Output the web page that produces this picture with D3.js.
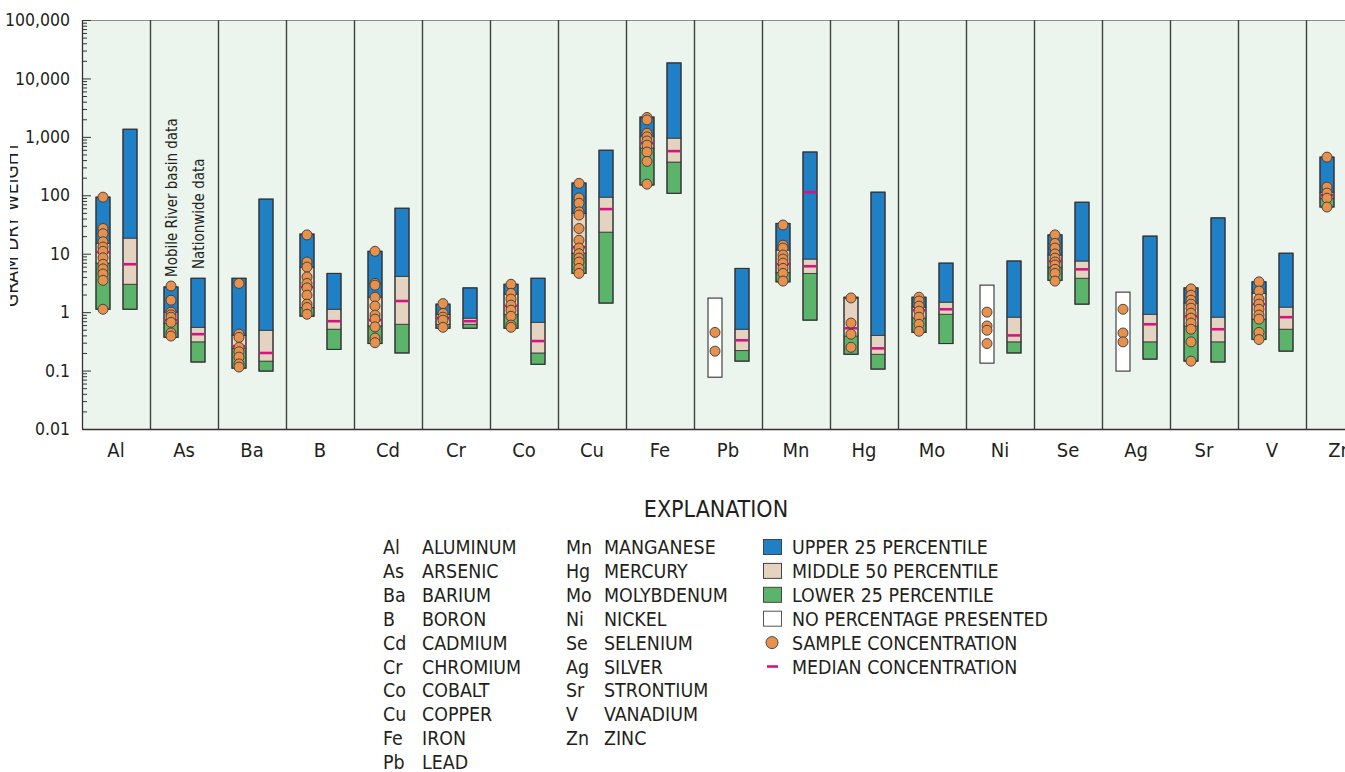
<!DOCTYPE html>
<html>
<head>
<meta charset="utf-8">
<script src="https://cdn.jsdelivr.net/npm/d3@7"></script>
<style>
  html, body { margin: 0; padding: 0; background: #ffffff; }
  svg { display: block; }
  text { font-family: 'Liberation Sans Narrow', 'DejaVu Sans Condensed', 'Arial Narrow', sans-serif; fill: #231f20; }
</style>
</head>
<body>
<svg id="chart" width="1345" height="772"></svg>
<script>
// ---------- DATA ----------
const elements = ["Al","As","Ba","B","Cd","Cr","Co","Cu","Fe","Pb","Mn","Hg","Mo","Ni","Se","Ag","Sr","V","Zn"];
const elementNames = ["ALUMINUM","ARSENIC","BARIUM","BORON","CADMIUM","CHROMIUM","COBALT","COPPER","IRON","LEAD",
                      "MANGANESE","MERCURY","MOLYBDENUM","NICKEL","SELENIUM","SILVER","STRONTIUM","VANADIUM","ZINC"];

// Mobile River basin data (null quartiles = no percentage presented)
const mrMin    = [1.12, 0.37, 0.11, 0.85, 0.29, 0.53, 0.53, 4.6, 150, 0.077, 3.3, 0.19, 0.45, 0.134, 3.5, 0.098, 0.145, 0.34, 63];
const mrQ1     = [6.9, 0.65, 0.24, 1.2, 0.58, 0.62, 0.92, 10.2, 645, null, 4.8, 0.39, 0.79, null, 5.9, null, 0.58, 0.76, 89];
const mrQ3     = [15, 1.0, 0.40, 5.9, 1.8, 0.92, 2.03, 49, 1030, null, 11.5, 1.74, 1.22, null, 9.5, null, 1.43, 2.1, 113];
const mrMax    = [93, 2.7, 3.8, 21.7, 11, 1.37, 3.0, 162, 2180, 1.74, 33, 1.8, 1.8, 2.9, 21, 2.2, 2.6, 3.3, 450];
const mrMedian = [10.6, 0.73, 0.26, 2.7, 0.73, 0.79, 1.27, 13, 780, null, 6.6, 0.53, 1.08, null, 7.5, null, 0.85, 1.37, 100];

// Nationwide data
const nwMin    = [1.12, 0.14, 0.098, 0.23, 0.2, 0.53, 0.128, 1.43, 108, 0.145, 0.73, 0.106, 0.29, 0.2, 1.37, 0.157, 0.14, 0.215, null];
const nwQ1     = [3.0, 0.31, 0.145, 0.51, 0.62, 0.62, 0.2, 23.4, 370, 0.22, 4.6, 0.19, 0.92, 0.31, 3.8, 0.31, 0.31, 0.51, null];
const nwQ3     = [18.5, 0.55, 0.49, 1.12, 4.1, 0.79, 0.67, 93, 950, 0.51, 8.1, 0.40, 1.48, 0.82, 7.5, 0.92, 0.82, 1.22, null];
const nwMax    = [1350, 3.8, 86, 4.6, 60, 2.6, 3.8, 590, 18400, 5.6, 550, 113, 6.9, 7.5, 76, 20, 41, 10.2, null];
const nwMedian = [6.6, 0.42, 0.2, 0.70, 1.55, 0.7, 0.32, 58, 570, 0.33, 6.1, 0.24, 1.12, 0.40, 5.4, 0.62, 0.51, 0.82, null];
const nwExtraMark = [null, null, null, null, null, null, null, null, null, null, 113, null, null, null, null, null, null, null, null];

// Sample concentrations, Mobile River basin
const samples = [
  [93, 27, 22, 16, 13, 11, 8.5, 6.6, 5.5, 4.5, 3.5, 1.12],
  [2.8, 1.6, 1.0, 0.9, 0.82, 0.67, 0.44, 0.39],
  [3.1, 0.42, 0.37, 0.25, 0.21, 0.17, 0.13, 0.115],
  [21, 7.2, 5.9, 4.0, 3.1, 2.6, 1.95, 1.37, 1.2, 0.92],
  [11, 3.1, 2.9, 1.8, 1.27, 0.89, 0.76, 0.56, 0.36, 0.3],
  [1.4, 0.95, 0.82, 0.73, 0.55],
  [3.0, 2.1, 1.67, 1.32, 1.08, 0.85, 0.6, 0.55],
  [160, 90, 73, 52, 46, 27, 17, 12.5, 10, 8.4, 7.2, 5.6, 4.6],
  [2150, 1950, 1150, 1000, 850, 720, 550, 380, 155],
  [0.45, 0.215],
  [31, 14, 12.5, 9.5, 8.1, 6.9, 5.6, 4.6, 3.4],
  [1.75, 0.65, 0.42, 0.25],
  [1.8, 1.55, 1.27, 1.04, 0.82, 0.62, 0.47],
  [1.0, 0.58, 0.49, 0.29],
  [21, 15, 12.5, 9.9, 8.4, 7.2, 6.4, 5.4, 4.6, 3.4],
  [1.12, 0.44, 0.31],
  [2.5, 1.95, 1.6, 1.37, 1.17, 0.96, 0.79, 0.65, 0.51, 0.31, 0.145],
  [3.3, 2.3, 1.67, 1.37, 1.12, 0.89, 0.76, 0.45, 0.34],
  [450, 138, 109, 89, 63]
];

const yTickValues = [0.01, 0.1, 1, 10, 100, 1000, 10000, 100000];
const yTickLabels = ["0.01", "0.1", "1", "10", "100", "1,000", "10,000", "100,000"];

const legendItems = ["UPPER 25 PERCENTILE", "MIDDLE 50 PERCENTILE", "LOWER 25 PERCENTILE",
                     "NO PERCENTAGE PRESENTED", "SAMPLE CONCENTRATION", "MEDIAN CONCENTRATION"];

// ---------- STYLE ----------
const C = {
  bg: "#ebf5ee", upper: "#1f80c6", middle: "#e3d3c0", lower: "#5cb46b",
  none: "#ffffff", dot: "#e8914c", median: "#d2167f", stroke: "#333333", sep: "#404040"
};

const svg = d3.select("#chart");
const plot = { left: 82, top: 20, bottom: 429, panel: 68 };

const x = d3.scaleBand().domain(elements)
  .range([plot.left, plot.left + plot.panel * elements.length]).padding(0);
const y = d3.scaleLog().domain([0.01, 100000]).range([plot.bottom, plot.top]);

const barW = 14, mrOff = 14, nwOff = 41;

// background
svg.append("rect").attr("x", plot.left).attr("y", plot.top)
  .attr("width", 1345 - plot.left).attr("height", plot.bottom - plot.top)
  .attr("fill", C.bg);

// top border
svg.append("line").attr("x1", plot.left).attr("x2", 1345)
  .attr("y1", plot.top + 0.5).attr("y2", plot.top + 0.5)
  .attr("stroke", "#8c8c8c").attr("stroke-width", 1);

// panel separators
svg.append("g").selectAll("line").data(elements.slice(1)).join("line")
  .attr("x1", d => x(d) + 0.5).attr("x2", d => x(d) + 0.5)
  .attr("y1", plot.top).attr("y2", plot.bottom)
  .attr("stroke", C.sep).attr("stroke-width", 1.4);

// build bar records
function makeBars(mins, q1s, q3s, maxs, meds, off) {
  return elements.map((e, i) => ({
    e, i, x: x(e) + off, min: mins[i], q1: q1s[i], q3: q3s[i], max: maxs[i], med: meds[i]
  })).filter(d => d.min != null && d.max != null);
}
const bars = makeBars(mrMin, mrQ1, mrQ3, mrMax, mrMedian, mrOff)
  .concat(makeBars(nwMin, nwQ1, nwQ3, nwMax, nwMedian, nwOff));

const gBars = svg.append("g");
bars.forEach(d => {
  const g = gBars.append("g");
  if (d.q1 == null) {
    g.append("rect").attr("x", d.x).attr("width", barW)
      .attr("y", y(d.max)).attr("height", y(d.min) - y(d.max))
      .attr("fill", C.none).attr("stroke", C.stroke).attr("stroke-width", 1.1);
    return;
  }
  const segs = [
    { lo: d.min, hi: d.q1, fill: C.lower },
    { lo: d.q1, hi: d.q3, fill: C.middle },
    { lo: d.q3, hi: d.max, fill: C.upper }
  ];
  segs.forEach(s => {
    g.append("rect").attr("x", d.x).attr("width", barW)
      .attr("y", y(s.hi)).attr("height", Math.max(0.5, y(s.lo) - y(s.hi)))
      .attr("fill", s.fill).attr("stroke", "#3d3d3d").attr("stroke-width", 0.9);
  });
  g.append("rect").attr("x", d.x).attr("width", barW)
    .attr("y", y(d.max)).attr("height", y(d.min) - y(d.max))
    .attr("fill", "none").attr("stroke", C.stroke).attr("stroke-width", 1.1);
  if (d.med != null) {
    g.append("line").attr("x1", d.x + 0.5).attr("x2", d.x + barW - 0.5)
      .attr("y1", y(d.med)).attr("y2", y(d.med))
      .attr("stroke", C.median).attr("stroke-width", 2.6);
  }
});

// extra magenta mark
svg.append("g").selectAll("line")
  .data(elements.map((e, i) => ({ e, v: nwExtraMark[i] })).filter(d => d.v != null))
  .join("line")
  .attr("x1", d => x(d.e) + nwOff + 0.5).attr("x2", d => x(d.e) + nwOff + barW - 0.5)
  .attr("y1", d => y(d.v)).attr("y2", d => y(d.v))
  .attr("stroke", C.median).attr("stroke-width", 2.6);

// sample dots
const dotData = [];
elements.forEach((e, i) => samples[i].forEach(v => dotData.push({ e, v })));
svg.append("g").selectAll("circle").data(dotData).join("circle")
  .attr("cx", d => x(d.e) + mrOff + barW / 2)
  .attr("cy", d => y(d.v))
  .attr("r", 5)
  .attr("fill", C.dot).attr("stroke", "#3a3a3a").attr("stroke-width", 0.9);

// y axis: ticks inside plot
const minorTicks = y.ticks().filter(t => !yTickValues.some(m => Math.abs(Math.log10(t) - Math.log10(m)) < 1e-6));
const gMinor = svg.append("g").attr("transform", `translate(${plot.left},0)`)
  .call(d3.axisRight(y).tickValues(minorTicks).tickSize(5).tickFormat(""));
gMinor.select(".domain").remove();
const gMajor = svg.append("g").attr("transform", `translate(${plot.left},0)`)
  .call(d3.axisRight(y).tickValues(yTickValues).tickSize(9).tickFormat(""));
gMajor.select(".domain").remove();
svg.selectAll(".tick line").attr("stroke", "#333").attr("stroke-width", 1);

const gLabels = svg.append("g").attr("transform", `translate(${plot.left - 9},0)`)
  .call(d3.axisLeft(y).tickValues(yTickValues).tickSize(0)
    .tickFormat((d, i) => yTickLabels[i]));
gLabels.select(".domain").remove();
gLabels.selectAll("text").attr("font-size", 17.5).attr("fill", "#231f20")
  .style("font-family", "'Liberation Sans Narrow', 'DejaVu Sans Condensed', sans-serif");

// left axis line and bottom axis
svg.append("line").attr("x1", plot.left + 0.5).attr("x2", plot.left + 0.5)
  .attr("y1", plot.top).attr("y2", plot.bottom).attr("stroke", "#333").attr("stroke-width", 1.3);
const gx = svg.append("g").attr("transform", `translate(0,${plot.bottom})`)
  .call(d3.axisBottom(x).tickSize(0).tickPadding(14));
gx.select(".domain").attr("stroke", "#333").attr("stroke-width", 1.3);
gx.selectAll("text").attr("font-size", 20).attr("fill", "#231f20")
  .style("font-family", "'Liberation Sans Narrow', 'DejaVu Sans Condensed', sans-serif");

// y axis title (cropped at the left edge in the reference)
svg.append("defs").append("clipPath").attr("id", "ytclip")
  .append("rect").attr("x", 10).attr("y", 0).attr("width", 40).attr("height", 772);
const ymid = (plot.top + plot.bottom) / 2;
svg.append("g").attr("clip-path", "url(#ytclip)")
  .append("text").attr("transform", `translate(18,${ymid}) rotate(-90)`)
  .attr("text-anchor", "middle").attr("font-size", 19)
  .text("GRAM DRY WEIGHT");

// rotated annotations in As panel
svg.append("text").attr("transform", `translate(${x("As") + mrOff + barW - 1},277) rotate(-90)`)
  .attr("font-size", 15).text("Mobile River basin data");
svg.append("text").attr("transform", `translate(${x("As") + nwOff + barW - 1},269) rotate(-90)`)
  .attr("font-size", 15).text("Nationwide data");

// ---------- LEGEND ----------
svg.append("text").attr("x", 716).attr("y", 517).attr("text-anchor", "middle")
  .attr("font-size", 23).text("EXPLANATION");

const rowH = 23.9, row0 = 554;
const col1 = elements.slice(0, 10), col2 = elements.slice(10);
const gl = svg.append("g").attr("font-size", 19.4);
col1.forEach((e, i) => {
  gl.append("text").attr("x", 383).attr("y", row0 + i * rowH).text(e);
  gl.append("text").attr("x", 422).attr("y", row0 + i * rowH).text(elementNames[i]);
});
col2.forEach((e, i) => {
  gl.append("text").attr("x", 566).attr("y", row0 + i * rowH).text(e);
  gl.append("text").attr("x", 604).attr("y", row0 + i * rowH).text(elementNames[i + 10]);
});

const swFills = [C.upper, C.middle, C.lower, C.none];
legendItems.forEach((t, i) => {
  const cy = row0 - 7 + i * rowH;
  if (i < 4) {
    gl.append("rect").attr("x", 763.5).attr("y", cy - 7.5).attr("width", 18).attr("height", 15)
      .attr("fill", swFills[i]).attr("stroke", i === 3 ? "#555" : "#444").attr("stroke-width", 1);
  } else if (i === 4) {
    gl.append("circle").attr("cx", 772).attr("cy", cy).attr("r", 6)
      .attr("fill", C.dot).attr("stroke", "#3a3a3a").attr("stroke-width", 0.9);
  } else {
    gl.append("line").attr("x1", 767).attr("x2", 778).attr("y1", cy).attr("y2", cy)
      .attr("stroke", C.median).attr("stroke-width", 2.6);
  }
  gl.append("text").attr("x", 792).attr("y", row0 + i * rowH).text(t);
});
</script>
</body>
</html>
